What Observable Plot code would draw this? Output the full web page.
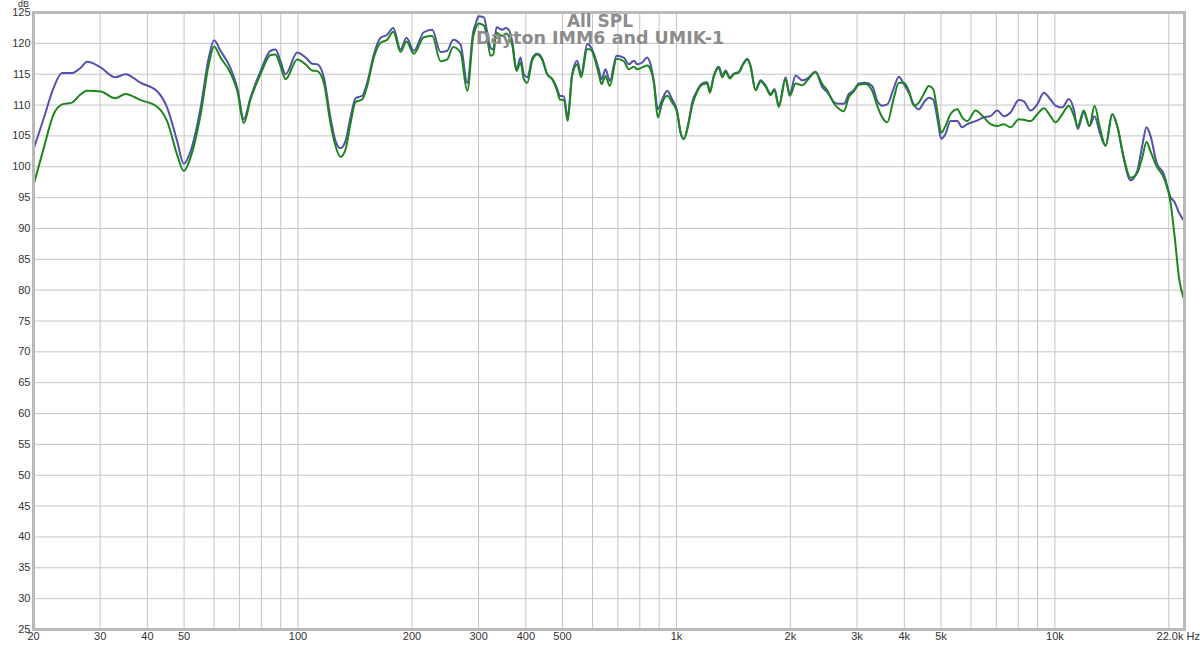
<!DOCTYPE html>
<html>
<head>
<meta charset="utf-8">
<script src="https://cdn.jsdelivr.net/npm/d3@7"></script>
<script src="https://cdn.jsdelivr.net/npm/@observablehq/plot@0.6"></script>
<style>
  html, body { margin: 0; padding: 0; background: #fff; }
  #plot-region { width: 1200px; height: 646px; }
</style>
</head>
<body>
<div id="plot-region"></div>
<script>
// frequency points (Hz) shared by both traces
const freqs = [
  20, 21.3, 22.6, 23.8, 25.3, 26.6, 27.7, 30.1, 32.9, 35.0, 38.4, 42.5, 45.1, 47.9, 49.9, 52.0,
  55.3, 58.1, 60.0, 62.4, 66.3, 69.1, 71.9, 74.9, 79.6, 84.6, 87.2, 89.9, 92.7, 99.5, 104.7, 109,
  112.4, 117, 121.8, 125.6, 129.5, 133.5, 137.6, 141.9, 147.8, 152.3, 158.6, 165.2, 172, 178.5, 186.6, 193.5,
  202.3, 215, 226.3, 238, 247.9, 257, 268.8, 280, 290.4, 295, 300, 309.8, 316, 322.6, 328, 334.6,
  346.4, 354, 360.6, 368, 377.8, 387.2, 395, 403.6, 415.6, 428.6, 441.8, 455.4, 469.6, 484, 491.8, 504,
  516, 530, 546.6, 560, 581, 595.4, 623.4, 633.8, 649.4, 666.6, 694.4, 725.8, 748.2, 771.6, 787.6, 811.8,
  836.8, 854, 871.4, 892.8, 917, 945.2, 974.4, 1004, 1025, 1046, 1072, 1101, 1135, 1170, 1206, 1225,
  1255, 1294, 1321, 1348, 1384, 1418, 1462, 1501, 1538, 1569, 1618, 1667, 1719, 1772, 1816, 1864,
  1942, 1993, 2064, 2149, 2216, 2330, 2428, 2502, 2606, 2686, 2768, 2854, 2942, 3032, 3158, 3290,
  3392, 3498, 3606, 3754, 3870, 3988, 4112, 4238, 4370, 4504, 4644, 4768, 4904, 5006, 5138, 5298,
  5520, 5688, 5866, 6170, 6488, 6758, 7040, 7328, 7632, 8028, 8276, 8620, 8980, 9346, 9736, 10030,
  10450, 10880, 11220, 11490, 11920, 12340, 12730, 13140, 13610, 14170, 14610, 15210, 15840, 16500, 17010, 17460,
  17890, 18560, 19400, 20200, 20700, 21300, 21910
];

// blue trace (dB)
const imm6 = [
  102.8, 107.9, 112.8, 115.2, 115.2, 116.0, 117.0, 116.1, 114.5, 115.0, 113.6, 112.2, 109.6, 104.2, 100.5, 102.5,
  109.6, 117.7, 120.5, 118.8, 116.0, 112.8, 107.7, 111.2, 115.5, 118.8, 119.0, 117.1, 115.0, 118.5, 117.7, 116.7,
  116.6, 114.5, 108.0, 104.2, 103.0, 104.2, 108.0, 111.1, 111.5, 113.6, 118.2, 120.9, 121.4, 122.5, 119.0, 120.9,
  118.8, 121.8, 122.2, 118.6, 118.8, 120.6, 119.8, 113.6, 121.9, 123.3, 124.4, 124.2, 121.9, 119.3, 119.0, 122.6,
  122.2, 122.5, 122.2, 120.4, 115.8, 117.7, 115.0, 114.5, 117.5, 118.3, 117.5, 115.0, 114.2, 112.6, 111.5, 111.4,
  108.0, 115.0, 117.2, 115.0, 119.9, 119.3, 115.8, 114.2, 115.8, 113.9, 118.0, 117.7, 116.6, 117.2, 116.6, 116.9,
  117.7, 116.6, 113.9, 109.3, 110.9, 112.3, 110.9, 109.0, 105.6, 104.5, 106.7, 110.5, 112.4, 113.5, 113.7, 112.1,
  114.8, 116.2, 114.8, 115.6, 114.5, 115.1, 115.4, 116.7, 117.5, 116.4, 112.4, 114.0, 113.2, 111.8, 112.6, 109.9,
  114.5, 111.8, 114.8, 114.0, 114.3, 115.4, 112.9, 112.1, 110.5, 110.2, 110.2, 111.8, 112.4, 113.5, 113.6, 113.1,
  110.7, 109.9, 110.1, 112.8, 114.6, 113.4, 112.0, 110.1, 109.3, 110.4, 111.2, 110.9, 107.4, 104.5, 105.3, 107.4,
  107.4, 106.4, 106.9, 107.4, 108.0, 108.2, 109.1, 108.2, 108.8, 110.8, 110.6, 109.1, 110.1, 112.0, 110.9, 109.9,
  109.6, 111.0, 109.3, 106.1, 108.8, 106.6, 108.2, 105.5, 103.4, 108.5, 106.6, 101.2, 97.8, 99.3, 103.4, 106.4,
  105.0, 100.7, 98.8, 95.1, 94.3, 92.5, 91.3
];

// green trace (dB)
const umik1 = [
  97.0, 103.1, 108.5, 110.1, 110.4, 111.7, 112.3, 112.2, 111.1, 111.8, 110.8, 109.7, 107.4, 102.0, 99.3, 101.5,
  108.5, 116.6, 119.5, 117.7, 115.2, 112.3, 107.1, 110.9, 115.0, 118.1, 118.2, 116.3, 114.2, 117.4, 116.6, 115.6,
  115.5, 113.6, 107.1, 103.4, 101.6, 102.8, 107.0, 110.5, 110.9, 113.1, 117.7, 120.1, 120.6, 121.9, 118.6, 120.3,
  118.3, 121.0, 121.2, 117.1, 117.4, 119.4, 118.5, 112.3, 121.1, 122.5, 123.2, 122.9, 120.9, 118.0, 118.2, 121.7,
  121.2, 121.6, 121.2, 119.8, 115.5, 116.9, 114.2, 113.6, 117.2, 118.2, 117.3, 115.0, 114.2, 112.3, 110.9, 110.8,
  107.4, 114.7, 116.6, 114.5, 119.1, 118.9, 115.0, 113.4, 114.7, 113.1, 117.5, 117.1, 115.8, 116.2, 115.8, 116.1,
  116.4, 115.8, 113.6, 108.0, 110.4, 111.5, 110.4, 108.8, 105.6, 104.5, 106.5, 110.0, 112.2, 113.3, 113.5, 112.0,
  114.6, 116.0, 114.5, 115.4, 114.3, 115.0, 115.3, 116.6, 117.4, 116.3, 112.4, 113.8, 113.0, 111.6, 112.4, 109.7,
  114.2, 111.5, 113.5, 113.2, 114.0, 115.3, 113.4, 112.4, 110.3, 109.4, 109.0, 111.3, 112.2, 113.3, 113.4, 112.3,
  109.9, 108.0, 107.2, 111.2, 113.6, 113.6, 112.3, 109.9, 110.4, 111.8, 113.1, 112.6, 108.5, 105.5, 106.6, 108.5,
  109.3, 108.0, 107.4, 109.1, 108.0, 106.9, 106.6, 106.9, 106.4, 107.7, 107.6, 107.4, 108.5, 109.5, 108.2, 107.2,
  108.5, 109.9, 108.3, 106.6, 109.1, 106.6, 109.9, 106.4, 103.4, 108.5, 106.6, 101.5, 98.2, 99.0, 101.5, 104.0,
  102.5, 100.1, 98.2, 94.3, 88.9, 81.8, 78.6
];

// axis ticks
const gridFreqs = [20, 30, 40, 50, 60, 70, 80, 90, 100, 200, 300, 400, 500, 600, 700, 800, 900,
  1000, 2000, 3000, 4000, 5000, 6000, 7000, 8000, 9000, 10000, 20000];
const labelFreqs = gridFreqs.filter(f => f < 20000);
const dbTicks = d3.range(25, 126, 5);
const endFreq = 22000;

function freqLabel(f) {
  return f >= 1000 ? `${f / 1000}k` : `${f}`;
}

function plotCurves() {
  const rows = freqs.map((f, i) => ({ f, imm6: imm6[i], umik1: umik1[i] }));

  const chart = Plot.plot({
    width: 1200,
    height: 646,
    marginLeft: 33,
    marginRight: 16,
    marginTop: 12,
    marginBottom: 17,
    style: { background: "#fff", fontFamily: "'Liberation Sans', Arial, sans-serif" },
    x: { type: "log", domain: [20, endFreq], axis: null },
    y: { domain: [25, 125], axis: null },
    marks: [
      Plot.gridX(gridFreqs, { stroke: "#c4c4c4", strokeOpacity: 1 }),
      Plot.gridY(dbTicks, { stroke: "#c4c4c4", strokeOpacity: 1 }),
      Plot.line(rows, { x: "f", y: "imm6", stroke: "#5252ae", strokeWidth: 2, curve: "monotone-x" }),
      Plot.line(rows, { x: "f", y: "umik1", stroke: "#1c861c", strokeWidth: 2, curve: "monotone-x" }),
      Plot.frame({ stroke: "#b9b9b9", strokeWidth: 3 }),
      Plot.axisY(dbTicks, { tickSize: 0, tickPadding: 3, fontSize: 11, fill: "#333", label: null }),
      Plot.axisX(labelFreqs, { tickSize: 0, tickPadding: 3, fontSize: 11, fill: "#333", tickFormat: freqLabel, label: null }),
      Plot.text([endFreq], { x: d => d, frameAnchor: "bottom", text: () => "22.0k", textAnchor: "end", lineAnchor: "top", dy: 3, dx: -1, fontSize: 11, fill: "#333" }),
      Plot.text([endFreq], { x: d => d, frameAnchor: "bottom", text: () => "Hz", textAnchor: "start", lineAnchor: "top", dy: 3, dx: 2, fontSize: 11, fill: "#333" }),
      Plot.text(["dB"], { frameAnchor: "top-left", text: d => d, textAnchor: "middle", lineAnchor: "bottom", dx: -10, dy: -6, fontSize: 9, fill: "#333" }),
      Plot.text(["All SPL"], { frameAnchor: "top", text: d => d, lineAnchor: "bottom", dx: -9, dy: 14, fontSize: 17, fontWeight: "bold", fill: "#8c8c8c", fontFamily: "'DejaVu Sans', sans-serif" }),
      Plot.text(["Dayton IMM6 and UMIK-1"], { frameAnchor: "top", text: d => d, lineAnchor: "bottom", dx: -9, dy: 31, fontSize: 17.5, fontWeight: "bold", fill: "#8c8c8c", fontFamily: "'DejaVu Sans', sans-serif" })
    ]
  });

  const plot = document.getElementById("plot-region");
  plot.innerHTML = "";
  plot.append(chart);
  return chart;
}

plotCurves();
</script>
</body>
</html>
